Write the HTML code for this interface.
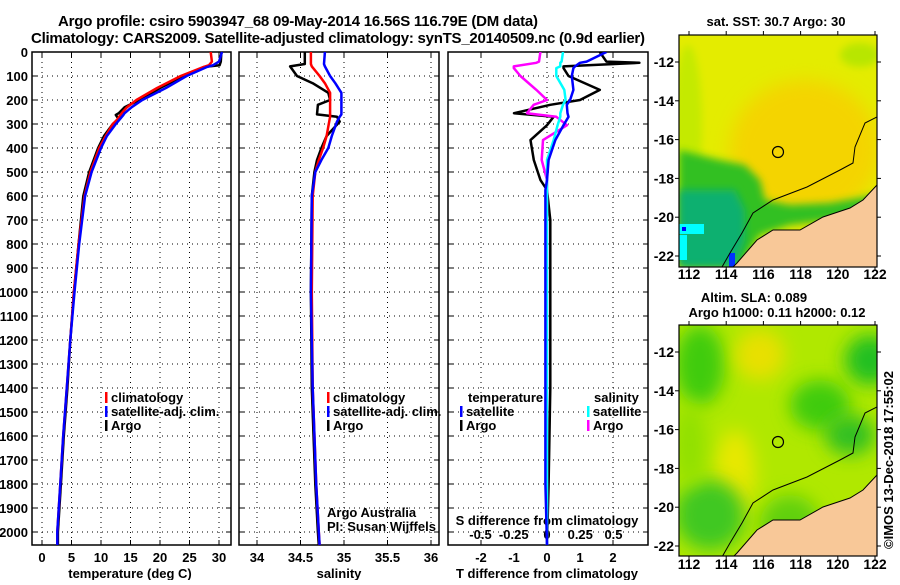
<!DOCTYPE html>
<html><head><meta charset="utf-8"><style>
html,body{margin:0;padding:0;background:#fff;}
svg text{font-family:"Liberation Sans",sans-serif;font-weight:bold;fill:#000;}
</style></head><body>
<svg id="c" width="900" height="580" viewBox="0 0 900 580" xmlns="http://www.w3.org/2000/svg">
<defs>
<filter id="bl" x="-50%" y="-50%" width="200%" height="200%"><feGaussianBlur stdDeviation="9"/></filter>
<filter id="bl2" x="-50%" y="-50%" width="200%" height="200%"><feGaussianBlur stdDeviation="4"/></filter>
<clipPath id="m1"><rect x="679" y="35" width="198" height="232"/></clipPath>
<clipPath id="m2"><rect x="679" y="325" width="198" height="231"/></clipPath>
<clipPath id="p3"><rect x="448" y="52" width="200" height="493"/></clipPath>
</defs>
<text x="298" y="26" text-anchor="middle" font-size="15" textLength="480">Argo profile: csiro 5903947_68 09-May-2014 16.56S 116.79E (DM data)</text>
<text x="338" y="43" text-anchor="middle" font-size="15" textLength="614">Climatology: CARS2009. Satellite-adjusted climatology: synTS_20140509.nc (0.9d earlier)</text>
<g id="g"></g>
</svg>
<script>
// ---- data ----
const depthTicks=[0,100,200,300,400,500,600,700,800,900,1000,1100,1200,1300,1400,1500,1600,1700,1800,1900,2000];
const tempTicks=[0,5,10,15,20,25,30];
const salTicks=[34,34.5,35,35.5,36];
const tdiffTicks=[-2,-1,0,1,2];
const sdiffTicks=[-0.5,-0.25,0,0.25,0.5];
const lonTicks=[112,114,116,118,120,122];
const latTicks=[-12,-14,-16,-18,-20,-22];
const tDepth=[0,40,55,62,100,150,200,230,255,262,280,300,350,400,500,600,800,1000,1200,1400,1600,1800,2000,2054];
const tArgo=[30.4,30.3,30.1,27.5,24,20,16.5,14,13,12.5,13,12,10.5,9.5,8,7,6.2,5.4,4.8,4.3,3.7,3.2,2.7,2.7];
const tClim=[28.6,28.8,28.3,27.4,23.5,19.5,16,14.4,13.5,13.3,12.8,12,10.8,9.7,8.2,7.2,6.2,5.4,4.8,4.2,3.6,3.1,2.6,2.6];
const tSat=[30.5,30,29,28,24.5,21,17,15.2,14,13.8,13.2,12.5,11,10,8.4,7.3,6.3,5.5,4.8,4.2,3.6,3.1,2.6,2.6];
const sDepth=[0,50,60,100,130,170,200,220,260,270,290,350,400,450,500,600,1000,1400,1800,2000,2054];
const sArgo=[34.55,34.55,34.38,34.46,34.64,34.82,34.84,34.70,34.69,34.92,34.95,34.80,34.74,34.69,34.66,34.63,34.62,34.63,34.67,34.70,34.71];
const sClim=[34.62,34.62,34.63,34.72,34.78,34.84,34.84,34.84,34.84,34.84,34.83,34.80,34.76,34.71,34.67,34.64,34.63,34.64,34.68,34.71,34.72];
const sSat=[34.78,34.77,34.78,34.84,34.90,34.97,34.97,34.97,34.97,34.95,34.92,34.86,34.82,34.74,34.67,34.63,34.62,34.64,34.68,34.71,34.72];
const dDepth=[0,40,45,60,67,100,158,200,220,255,270,305,367,450,533,575,700,1000,1400,1800,2054];
const dTArgo=[1.6,1.8,2.8,0.5,0.5,0.65,1.6,1.0,0.1,-1.0,0.2,0.0,-0.5,-0.4,-0.2,0.0,0.1,0.1,0.1,0.05,0.0];
const dTSat=[1.8,1.2,1.0,0.85,0.8,0.75,0.8,0.7,0.6,0.62,0.65,0.5,0.25,0.05,0.0,-0.05,-0.05,-0.05,-0.05,-0.05,0.0];
const dSArgo=[-0.05,-0.06,-0.08,-0.25,-0.25,-0.2,-0.08,0.0,-0.1,-0.15,0.07,0.15,-0.03,-0.04,0.0,0.0,0.0,0.0,0.0,0.0,0.0];
const dSSat=[0.12,0.11,0.1,0.1,0.07,0.07,0.13,0.14,0.12,0.1,0.1,0.08,0.05,0.0,0.0,0.0,0.0,0.0,0.0,0.0,0.0];
// ---- helpers ----
const NS='http://www.w3.org/2000/svg', G=document.getElementById('g');
function el(t,a,p){const e=document.createElementNS(NS,t);for(const k in a)e.setAttribute(k,a[k]);(p||G).appendChild(e);return e;}
const Y=d=>52+d*0.24;
const X1=v=>42+v*5.9, X2=v=>257+(v-34)*87, X3=v=>547+v*33, X3s=v=>547+v*133;
function axisPanel(x0,x1,name){
 const f=el('rect',{x:x0,y:52,width:x1-x0,height:493,fill:'none',stroke:'#000','stroke-width':1.5});
 
 depthTicks.forEach(d=>{const l=el('line',{x1:x0,x2:x1,y1:Y(d),y2:Y(d),stroke:'#000','stroke-dasharray':'1,4'});
  
  el('line',{x1:x0,x2:x0+5,y1:Y(d),y2:Y(d),stroke:'#000'});el('line',{x1:x1-5,x2:x1,y1:Y(d),y2:Y(d),stroke:'#000'});});
}
function vgrid(xs,f,name){xs.forEach(v=>{const l=el('line',{x1:f(v),x2:f(v),y1:52,y2:545,stroke:'#000','stroke-dasharray':'1,4'});
 
 el('line',{x1:f(v),x2:f(v),y1:52,y2:57,stroke:'#000'});el('line',{x1:f(v),x2:f(v),y1:540,y2:545,stroke:'#000'});});}
function line(ds,vs,f,col,name,w,clip){const pts=ds.map((d,i)=>f(vs[i]).toFixed(1)+','+Y(d).toFixed(1)).join(' ');
 const p=el('polyline',{points:pts,fill:'none',stroke:col,'stroke-width':w||2.5,'stroke-linejoin':'round'});
 if(clip)p.setAttribute('clip-path','url(#'+clip+')');
 }
function txt(s,x,y,o,name){const t=el('text',Object.assign({x:x,y:y,'font-size':13},o||{}));t.textContent=s;
 return t;}
// depth labels
depthTicks.forEach(d=>txt(String(d),28,Y(d)+5,{'text-anchor':'end'},'depth-tick-label'));
// panel 1
axisPanel(32,231,'temperature-panel');vgrid(tempTicks,X1,'temperature');
tempTicks.forEach(v=>txt(String(v),X1(v),562,{'text-anchor':'middle'},'temperature-tick-label'));
txt('temperature (deg C)',130,578,{'text-anchor':'middle'},'x-axis-title-temperature');
line(tDepth,tArgo,X1,'#000','temperature-argo-line');
line(tDepth,tClim,X1,'#f00','temperature-climatology-line');
line(tDepth,tSat,X1,'#00f','temperature-satellite-line');
// panel 2
axisPanel(239,439,'salinity-panel');vgrid(salTicks,X2,'salinity');
salTicks.forEach(v=>txt(String(v),X2(v),562,{'text-anchor':'middle'},'salinity-tick-label'));
txt('salinity',339,578,{'text-anchor':'middle'},'x-axis-title-salinity');
line(sDepth,sArgo,X2,'#000','salinity-argo-line');
line(sDepth,sClim,X2,'#f00','salinity-climatology-line');
line(sDepth,sSat,X2,'#00f','salinity-satellite-line');
// panel 3
axisPanel(448,648,'difference-panel');vgrid([-2,0,2],X3,'difference');
tdiffTicks.forEach(v=>txt(String(v),X3(v),562,{'text-anchor':'middle'},'tdiff-tick-label'));
sdiffTicks.forEach(v=>txt(String(v),X3s(v),539,{'text-anchor':'middle'},'sdiff-tick-label'));
txt('S difference from climatology',547,525,{'text-anchor':'middle'},'sdiff-axis-title');
txt('T difference from climatology',547,578,{'text-anchor':'middle'},'tdiff-axis-title');
line(dDepth,dTArgo,X3,'#000','tdiff-argo-line',2.5,'p3');
line(dDepth,dSArgo,X3s,'#f0f','sdiff-argo-line',2.5,'p3');
line(dDepth,dSSat,X3s,'#0ff','sdiff-satellite-line',2.5,'p3');
line(dDepth,dTSat,X3,'#00f','tdiff-satellite-line',2.5,'p3');
// legends
function leg(x,y,col,s,name){const r=el('rect',{x:x,y:y-10,width:2.5,height:11,fill:col});
 txt(s,x+6,y,{},name);}
leg(105,402,'#f00','climatology','legend-climatology');leg(105,416,'#00f','satellite-adj. clim.','legend-satellite');leg(105,430,'#000','Argo','legend-argo');
leg(327,402,'#f00','climatology','legend2-climatology');leg(327,416,'#00f','satellite-adj. clim.','legend2-satellite');leg(327,430,'#000','Argo','legend2-argo');
txt('temperature',468,402,{},'legend3-temperature-header');
leg(460,416,'#00f','satellite','legend3-t-satellite');leg(460,430,'#000','Argo','legend3-t-argo');
txt('salinity',594,402,{},'legend3-salinity-header');
leg(587,416,'#0ff','satellite','legend3-s-satellite');leg(587,430,'#f0f','Argo','legend3-s-argo');
txt('Argo Australia',327,517,{'font-weight':'normal','font-size':13},'credit-argo-australia');
txt('PI: Susan Wijffels',327,531,{'font-weight':'normal','font-size':13},'credit-pi');
// ---- maps ----
const LX=v=>689+(v-112)*18.6;
const coast=[[877,185],[863,200],[850,208],[823,217],[800,230],[773,230],[757,240],[737,263],[733,267],[877,267]];
const bathy=[[877,117],[865,123],[855,147],[853,163],[840,170],[807,187],[773,200],[753,213],[742,233],[730,253],[722,267]];
function pts(a,dy){return a.map(p=>p[0]+','+(p[1]+dy)).join(' ');}
function map(dy,kind){
 const top=35+dy, LY=v=>62+dy+(-12-v)*19.4;
 const g=el('g',{'clip-path':'url(#'+(dy?'m2':'m1')+')'});
 
 if(kind==='sst'){
  el('rect',{x:679,y:top,width:198,height:232,fill:'#e4ec00'},g);
  el('ellipse',{cx:805,cy:top+115,rx:75,ry:70,fill:'#f4d400',filter:'url(#bl)'},g);
  el('ellipse',{cx:688,cy:top+90,rx:14,ry:80,fill:'#c4ea00',filter:'url(#bl2)'},g);
  el('ellipse',{cx:860,cy:top+20,rx:20,ry:12,fill:'#b8e600',filter:'url(#bl2)'},g);
  el('polygon',{points:pts([[679,150],[720,160],[745,165],[760,180],[765,200],[790,205],[830,203],[877,195],[877,215],[790,225],[760,235],[740,267],[679,267]],dy),fill:'#30c020',filter:'url(#bl2)'},g);
  el('polygon',{points:pts([[679,190],[735,190],[745,210],[745,240],[735,267],[679,267]],dy),fill:'#10b070',filter:'url(#bl2)'},g);
  el('rect',{x:679,y:top+189,width:25,height:10,fill:'#00ffff'},g);
  el('rect',{x:679,y:top+200,width:8,height:25,fill:'#00ffff'},g);
  el('rect',{x:682,y:top+192,width:4,height:4,fill:'#0000ff'},g);
  el('rect',{x:729,y:top+218,width:6,height:14,fill:'#0030ff'},g);
 } else {
  el('rect',{x:679,y:top,width:198,height:231,fill:'#b0e800'},g);
  [[700,40,25,40,'#40cc10'],[760,30,25,25,'#e8e000'],[820,80,30,25,'#40cc10'],[870,35,25,25,'#20c020'],[735,150,20,45,'#e8e800'],[710,190,35,35,'#40c820'],[850,110,25,20,'#30c020'],[790,200,30,30,'#60d010'],[690,120,15,40,'#90e000']].forEach(e=>
   el('ellipse',{cx:e[0],cy:top+e[1],rx:e[2],ry:e[3],fill:e[4],filter:'url(#bl)'},g));
 }
 el('polygon',{points:pts(coast,dy),fill:'#f8c898',stroke:'#000','stroke-width':1},g);
 el('polyline',{points:pts(bathy,dy),fill:'none',stroke:'#000','stroke-width':1},g);
 const c=el('circle',{cx:778,cy:152+dy,r:5.5,fill:'none',stroke:'#000','stroke-width':1.2});
 
 el('rect',{x:679,y:top,width:198,height:dy?231:232,fill:'none',stroke:'#000','stroke-width':1.2});
 lonTicks.forEach(v=>{el('line',{x1:LX(v),x2:LX(v),y1:top,y2:top-4,stroke:'#000'});el('line',{x1:LX(v),x2:LX(v),y1:top+(dy?231:232),y2:top+236,stroke:'#000'});
  txt(String(v),LX(v),top+244,{'text-anchor':'middle','font-size':14},kind+'-lon-label');});
 latTicks.forEach(v=>{el('line',{x1:675,x2:679,y1:LY(v),y2:LY(v),stroke:'#000'});el('line',{x1:877,x2:881,y1:LY(v),y2:LY(v),stroke:'#000'});
  txt(String(v),674,LY(v)+5,{'text-anchor':'end','font-size':14},kind+'-lat-label');});
}
map(0,'sst');map(290,'sla');
txt('sat. SST: 30.7 Argo: 30',776,26,{'text-anchor':'middle'},'sst-map-title');
txt('Altim. SLA: 0.089',754,302,{'text-anchor':'middle'},'sla-map-title');
txt('Argo h1000: 0.11 h2000: 0.12',777,317,{'text-anchor':'middle'},'sla-map-subtitle');
const cr=txt('©IMOS 13-Dec-2018 17:55:02',0,0,{'font-weight':'normal','font-size':13,transform:'translate(893,549) rotate(-90)'},'copyright-timestamp');
</script>
</body></html>
